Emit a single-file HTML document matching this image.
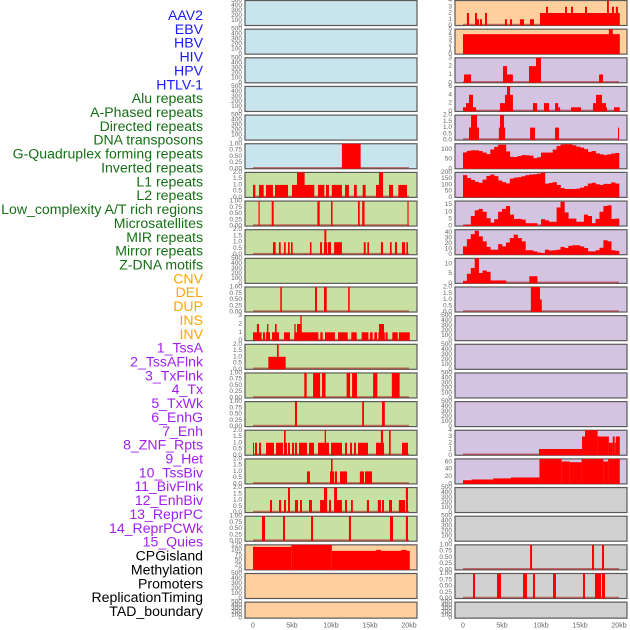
<!DOCTYPE html>
<html><head><meta charset="utf-8"><style>
html,body{margin:0;padding:0;background:#fff;}
svg{display:block;font-family:"Liberation Sans",sans-serif;}
</style></head><body>
<svg id="chart" width="630" height="630" viewBox="0 0 630 630" xmlns="http://www.w3.org/2000/svg"></svg>
<script>
// ---- track labels ----
const trackLabels = ["AAV2","EBV","HBV","HIV","HPV","HTLV-1","Alu repeats","A-Phased repeats","Directed repeats","DNA transposons","G-Quadruplex forming repeats","Inverted repeats","L1 repeats","L2 repeats","Low_complexity A/T rich regions","Microsatellites","MIR repeats","Mirror repeats","Z-DNA motifs","CNV","DEL","DUP","INS","INV","1_TssA","2_TssAFlnk","3_TxFlnk","4_Tx","5_TxWk","6_EnhG","7_Enh","8_ZNF_Rpts","9_Het","10_TssBiv","11_BivFlnk","12_EnhBiv","13_ReprPC","14_ReprPCWk","15_Quies","CPGisland","Methylation","Promoters","ReplicationTiming","TAD_boundary"];
const labelGroups = [6,13,5,15,5];
const xTickValues = [0,5,10,15,20];
const xTickLabels = ["0","5kb","10kb","15kb","20kb"];

// ---- tick sets ----
const t500 = [0,100,200,300,400,500];
const t1q = [0,0.25,0.5,0.75,1];
const t2h = [0,0.5,1,1.5,2];
const t3 = [0,1,2,3];
const t4 = [0,1,2,3,4];
const t5 = [0,1,2,3,4,5];
const t6 = [0,2,4,6];
const tG = [0,50,100];
const tL1 = [0,50,100,150,200];
const tLC = [0,5,10,15];
const tMIR = [0,10,20,30,40];
const tZ = [0,5,10];
const t60 = [0,20,40,60];
const tCPG = [0,25,50,75,100,125];

// ---- left column segments [startKb, endKb, value] ----
const L5 = [[11.4,13.8,1]];
const L6 = [[0,0.3,1],[0.77,1.37,1],[1.67,2.56,1],[2.82,4.49,1],[5.0,7.86,1],[8.33,9.15,1],[9.36,9.74,1],[10.1,11.4,1],[11.8,12.3,1],[12.95,13.3,1],[14.06,14.44,1],[15.77,16.67,1],[17.44,17.95,1],[18.63,19.74,1],[5.64,6.62,2],[16.15,16.67,2]];
const L7 = [[0.7,0.85,1],[2.4,2.65,1],[8.25,8.55,1],[10,10.2,1],[13.46,13.68,1],[14,14.3,1],[19.8,19.95,1]];
const L8 = [[2.56,2.9,1],[3.33,3.55,1],[3.97,4.19,1],[4.49,4.7,1],[4.87,5.08,1],[7.3,7.5,1],[8.6,8.85,1],[9.1,9.5,1],[9.15,9.4,2],[9.6,10,1],[10.4,11.4,1],[14.2,14.45,1],[14.66,14.87,1],[16.4,16.67,1],[17.56,17.78,1],[18.2,18.46,1],[19.1,19.5,1],[19.66,19.87,1]];
const L10 = [[3.5,3.7,1],[7.95,8.2,1],[9.1,9.45,1],[12.2,12.4,1]];
const L11 = [[0,1.1,1],[0.5,0.77,2],[1.28,1.54,1],[1.67,2.18,1],[1.8,1.97,2],[2.44,3.33,1],[2.82,3.03,2],[3.97,4.74,1],[5.3,8.38,1],[5.3,5.47,2],[5.64,6.24,2],[6.07,6.24,3],[8.63,8.93,1],[9.23,10.5,1],[10.9,12.14,1],[12.6,13.3,1],[13.93,14.8,1],[15,15.34,1],[15.56,15.9,1],[16.07,16.9,1],[16.15,16.8,2],[17,17.26,1],[17.86,18.55,1],[18.7,20.1,1]];
const L12 = [[1.97,4.19,1],[3.08,3.29,2]];
const L13 = [[6.58,6.88,1],[7.7,8.6,1],[8.85,9.3,1],[12,12.44,1],[12.7,13.33,1],[15.4,15.94,1],[17.8,18.8,1]];
const L14 = [[5.38,5.64,1],[14,14.23,1],[16.54,16.9,1]];
const L15 = [[0,0.13,1],[0.26,0.51,1],[0.77,1.03,1],[1.67,2.69,1],[2.95,3.85,1],[4.1,4.36,1],[4.49,4.74,1],[5,5.26,1],[5.38,5.64,1],[5.9,6.92,1],[7.18,7.82,1],[8.33,9.74,1],[10,11.41,1],[11.8,12.05,1],[12.44,12.7,1],[12.95,13.2,1],[13.46,14.74,1],[15.77,16.8,1],[19.1,19.87,1],[3.97,4.19,2],[9.19,9.36,2],[16.4,16.67,2],[17.44,17.65,2]];
const L16 = [[6.92,7.3,1],[9.87,10.4,1],[10.5,10.77,1],[11.15,12.05,1],[13.7,14.23,1],[14.36,15.26,1],[10,10.2,2]];
const L17 = [[2.18,2.44,1],[3.33,3.6,1],[3.97,4.23,1],[5.38,5.77,1],[6.03,6.28,1],[7.18,7.56,1],[8.6,9.5,1],[9.74,10,1],[10.4,11.4,1],[11.8,12.05,1],[12.56,12.8,1],[14.6,14.87,1],[16,16.4,1],[16.54,16.8,1],[17.44,17.82,1],[18.7,19.5,1],[4.49,4.74,2],[9.1,9.5,2],[10.4,10.77,2],[19.6,19.87,2]];
const L18 = [[1.15,1.54,1],[3.85,4.1,1],[7.44,7.7,1],[12.3,12.56,1],[17.56,17.95,1],[19.6,19.87,1]];
const L19 = [[0,4.9,115],[4.9,10.1,125],[10.1,20.1,95],[15.8,16.4,100],[19,19.7,100]];

// ---- right column segments ----
const R0 = [[0.5,0.77,2],[1.54,1.8,2],[1.8,2.05,1],[2.18,2.44,1],[2.82,3.08,2],[5.38,5.64,1],[6.03,6.28,1],[7.3,7.82,1],[8.6,9.1,1],[9.87,20.1,2],[10.64,10.9,3],[13.08,13.33,3],[13.85,14.1,3],[15.64,15.9,3],[18.46,18.7,4],[19.1,19.36,3],[19.6,19.87,3]];
const R1 = [[0,20.1,4],[18.7,19.2,5]];
const R2 = [[0.13,1.03,1],[5.13,5.64,2],[5.64,6.4,1],[8.46,9.36,2],[9.36,10,3],[17.44,17.95,1]];
const R3 = [[0,0.38,1],[0.38,0.77,2],[0.77,1.28,4],[1.28,1.67,1],[4.74,5.38,2],[5.38,5.64,4],[5.64,6.03,6],[6.03,6.4,4],[8.97,9.5,2],[10.38,11.03,2],[11.8,12.2,2],[12.2,12.45,1],[13.85,15.13,1],[16.67,17.05,2],[17.05,17.82,4],[17.82,18.33,2],[18.33,18.46,1],[19.36,20.1,1]];
const R4 = [[0.77,1.03,1],[1.03,1.8,2],[1.8,2.05,1],[4.6,4.74,1],[4.74,5.26,2],[5.26,5.4,1],[8.6,9.23,1],[11.8,12.3,1],[19.87,20,1]];
const R10 = [[8.7,9.87,2],[9.87,10.1,1]];
const R15 = [[9.74,15.26,1],[15.26,15.64,3],[15.64,17.26,4],[17.26,18.7,3],[18.7,19.2,2],[19.2,19.45,3],[19.45,19.6,2],[19.6,20.1,3]];
const R16 = [[0,1.1,10],[1.1,3.9,12],[3.9,6.15,15],[6.15,9.8,17.5],[9.8,12.65,68],[12.65,13.7,61],[13.7,15.2,59],[15.2,18,68],[18,18.6,61],[18.6,20.1,68]];
const R19 = [[8.6,8.85,1],[16.54,16.8,1],[17.82,18.08,1]];
const R20 = [[1.28,1.54,1],[4.36,4.87,1],[7.7,8.2,1],[8.97,9.23,1],[11.54,11.92,1],[15.38,15.64,1],[16.92,17.7,1],[17.82,18.2,1]];

// ---- right column binned series (0.5 kb bins from 0) ----
const R5bins = [85,93,96,96,92,84,76,100,114,125,125,90,62,61,66,71,70,68,55,60,84,84,84,100,118,126,127,127,122,115,110,102,88,92,80,75,71,75,79,82];
const R6bins = [178,155,140,125,117,142,172,183,170,135,122,112,150,158,162,169,178,183,185,190,198,110,115,122,100,75,67,67,67,70,78,90,111,117,105,100,108,108,120,111];
const R7bins = [0.5,0.8,7,11,12,10,5.5,2.4,4.8,10,12,14,8,5,5,4.5,2,2,2,0,4.8,4,3,3,13,17,9.5,5.2,5.2,3,3,8,7,2,5,10,14,14.5,5,5.2];
const R8bins = [15,28,37,43,33,24,14,9,9,19,15,22,30,36,30,24,8,8,6,4,3,9,7.5,8,9,14,12,16,17,17,15,12,6,6,8,12.5,26,24,8,7];
const R9bins = [1.3,5,8,13,5.4,6.7,6,1.5,1.5,1.5,1.5,0,0,0,0,0,0,3.7,3.7,0,0,0,0,0,0,0,0,0,0,0,0,0,0,0,0,0,0,0,0,0];

// ---- layout (col, row, background, ticks, ymax, data) ----
const BG = {blue:"#c8e4ec",green:"#c8e1a2",orange:"#ffd09e",purple:"#d4c4e2",gray:"#d1d1d1"};
const panels = [
 ["L",0,"blue",t500,500,null,null],["L",1,"blue",t500,500,null,null],["L",2,"blue",t500,500,null,null],
 ["L",3,"blue",t500,500,null,null],["L",4,"blue",t500,500,null,null],["L",5,"blue",t1q,1,L5,null],
 ["L",6,"green",t2h,2,L6,null],["L",7,"green",t1q,1,L7,null],["L",8,"green",t2h,2,L8,null],
 ["L",9,"green",t500,500,null,null],["L",10,"green",t1q,1,L10,null],["L",11,"green",t3,3,L11,null],
 ["L",12,"green",t2h,2,L12,null],["L",13,"green",t1q,1,L13,null],["L",14,"green",t1q,1,L14,null],
 ["L",15,"green",t2h,2,L15,null],["L",16,"green",t2h,2,L16,null],["L",17,"green",t2h,2,L17,null],
 ["L",18,"green",t1q,1,L18,null],["L",19,"orange",tCPG,125,L19,null],["L",20,"orange",t500,500,null,null],
 ["L",21,"orange",t500,500,null,null],
 ["R",0,"orange",t4,4,R0,null],["R",1,"orange",t5,5,R1,null],["R",2,"purple",t3,3,R2,null],
 ["R",3,"purple",t6,6,R3,null],["R",4,"purple",t2h,2,R4,null],["R",5,"purple",tG,130,null,R5bins],
 ["R",6,"purple",tL1,200,null,R6bins],["R",7,"purple",tLC,17.5,null,R7bins],["R",8,"purple",tMIR,45,null,R8bins],
 ["R",9,"purple",tZ,13,null,R9bins],["R",10,"purple",t2h,2,R10,null],["R",11,"purple",t500,500,null,null],
 ["R",12,"purple",t500,500,null,null],["R",13,"purple",t500,500,null,null],["R",14,"purple",t500,500,null,null],
 ["R",15,"purple",t4,4,R15,null],["R",16,"purple",t60,68,R16,null],["R",17,"gray",t500,500,null,null],
 ["R",18,"gray",t500,500,null,null],["R",19,"gray",t1q,1,R19,null],["R",20,"gray",t1q,1,R20,null],
 ["R",21,"gray",t500,500,null,null]
];

const NS = "http://www.w3.org/2000/svg";
const svg = document.getElementById("chart");
function mk(tag, attrs, parent){ const e=document.createElementNS(NS,tag); for(const k in attrs) e.setAttribute(k,attrs[k]); (parent||svg).appendChild(e); return e; }

// labels
const labelColors = ["#1a1aff","#157015","#ffa500","#a020f0","#000000"];
let gi=0, cnt=0;
trackLabels.forEach((lab,i)=>{
  if(cnt>=labelGroups[gi]){gi++;cnt=0;}
  cnt++;
  const t = mk("text",{x:203,y:15+i*13.86,"text-anchor":"end","dominant-baseline":"central","font-size":"14.1",fill:labelColors[gi]});
  t.textContent = lab;
  
  
});

const COL = {L:{x:245,k0:253},R:{x:455,k0:463}};
const PW=172, KBPX=7.8, STEP=28.65;
function fmt(ticks,v){
  const step = ticks[1]-ticks[0];
  if(step===0.25) return v.toFixed(2);
  if(step===0.5) return v.toFixed(1);
  return String(v);
}
panels.forEach(p=>{
  const [col,row,bg,ticks,ymax,segs,bins]=p;
  const c=COL[col];
  const top=row*STEP+0.5, h=(row===21?16:25);
  const bottom=top+h;
  const xs=kb=>c.k0+kb*KBPX;
  const ys=v=>bottom-(Math.min(v,ymax)/ymax)*h;
  const g=mk("g",{});
  
  
  const r=mk("rect",{x:c.x,y:top,width:PW,height:h,fill:BG[bg],stroke:"#5a5a5a","stroke-width":1.2},g);
  
  
  ticks.forEach(tv=>{
    const tt=mk("text",{x:c.x-3,y:ys(tv),"text-anchor":"end","dominant-baseline":"central","font-size":"6.5",fill:"#666"},g);
    tt.textContent=fmt(ticks,tv);
    
    
  });
  if(segs||bins){
    const bl=mk("line",{x1:xs(0),x2:xs(20),y1:bottom-1,y2:bottom-1,stroke:"rgba(170,20,20,0.55)","stroke-width":1.6},g);
    
    
  }
  if(segs){
    segs.forEach(s=>{
      const b=mk("rect",{x:xs(s[0]),y:ys(s[2]),width:Math.max(0.8,xs(s[1])-xs(s[0])),height:bottom-ys(s[2]),fill:"#ff0000"},g);
      
      
    });
  }
  if(bins){
    bins.forEach((v,i)=>{
      if(v<=0) return;
      const b=mk("rect",{x:xs(i*0.5),y:ys(v),width:0.5*KBPX+0.3,height:bottom-ys(v),fill:"#ff0000"},g);
      
      
    });
  }
});

// x axis labels
["L","R"].forEach(col=>{
  xTickValues.forEach((v,i)=>{
    const t=mk("text",{x:COL[col].k0+v*KBPX,y:626,"text-anchor":"middle","dominant-baseline":"central","font-size":"7",fill:"#666"});
    t.textContent=xTickLabels[i];
    
    
  });
});
</script>
</body></html>
